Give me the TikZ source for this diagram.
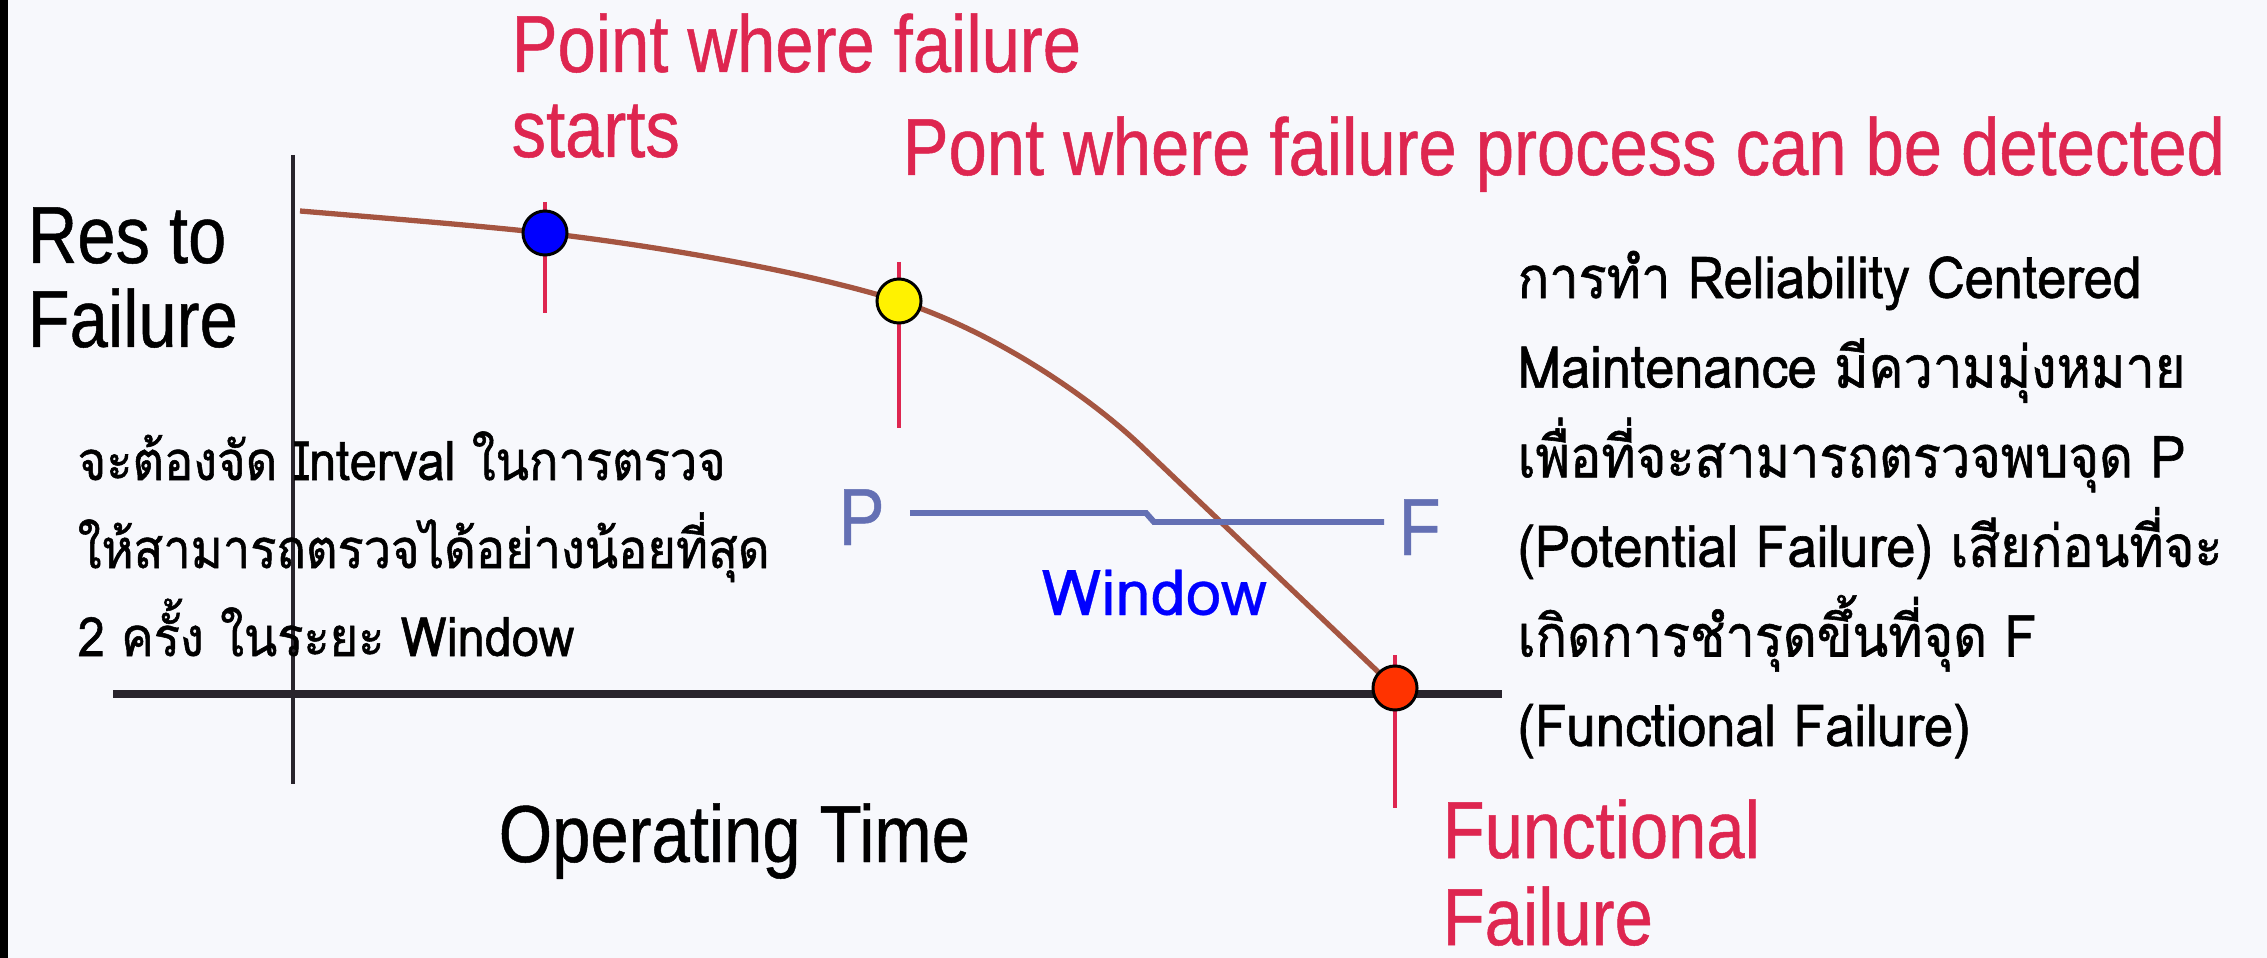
\documentclass[tikz,border=0pt]{standalone}
\usepackage{xcolor}
\usepackage{fontspec}
\usepackage{tikz}
\usetikzlibrary{positioning}

\newfontfamily\thaifont[Script=Thai, FakeBold=0.5]{Loma}
\newfontfamily\thainote[Script=Thai, FakeStretch=0.9, FakeBold=1]{Loma}
\newfontfamily\oldfont[FakeStretch=0.85, FakeBold=0.6]{Liberation Sans}

\definecolor{latar}{RGB}{247,248,252}
\definecolor{merah}{RGB}{222,38,80}
\definecolor{coklat}{RGB}{165,85,65}
\definecolor{biruabu}{RGB}{100,112,180}
\definecolor{sumbu}{RGB}{40,36,44}
\definecolor{titikmerah}{RGB}{255,51,0}

\begin{document}
\begin{tikzpicture}[
    x=0.01cm, y=-0.01cm,
    lama/.style={inner sep=0pt, anchor=base west, font=\oldfont\fontsize{23}{26}\selectfont},
    labelmerah/.style={lama, text=merah},
    catatan/.style={inner sep=0pt, anchor=base west, font=\thainote\fontsize{16.5}{19}\selectfont},
    catatankiri/.style={catatan, font=\thainote\fontsize{15.4}{18}\selectfont},
    titik/.style={circle, draw=black, line width=0.85pt, minimum size=0.44cm, inner sep=0pt},
    tanda/.style={draw=merah, line width=1.4pt},
    garisPF/.style={draw=biruabu, line width=1.7pt}
  ]
    % kanvas
    \fill[latar] (0,0) rectangle (2267,958);
    \fill[black] (0,0) rectangle (8,958);
    \useasboundingbox (0,0) rectangle (2267,958);

    % sumbu
    \draw[sumbu, line width=2pt] (113,694) -- (1502,694);
    \draw[sumbu, line width=1.4pt] (293,155) -- (293,784);

    % titik pada kurva
    \coordinate (mulai) at (545,233);
    \coordinate (deteksi) at (899,301);
    \coordinate (gagal) at (1395,688);

    \draw[tanda] (mulai) ++(0,-31) -- ++(0,111);
    \draw[tanda] (deteksi) ++(0,-39) -- ++(0,166);
    \draw[tanda] (gagal) ++(0,-33) -- ++(0,153);

    \draw[coklat, line width=1.5pt] (300,211)
      .. controls (420,221) and (480,226) .. (mulai)
      .. controls (650,245) and (800,270) .. (deteksi)
      .. controls (990,330) and (1085,393) .. (1140,445) -- (gagal);

    % jendela P-F
    \node[lama, text=biruabu] (hurufP) at (838,545) {P};
    \node[lama, text=biruabu] (hurufF) at (1398,555) {F};
    \coordinate (awalPF) at (910,513);
    \coordinate (akhirPF) at (1384,522);
    \draw[garisPF] (awalPF) -- (1146,513) -- (1154,522) -- (akhirPF);
    \node[inner sep=0pt, anchor=base west, text=blue,
          font=\thaifont\fontsize{18}{20}\selectfont] (jendela) at (1041,615) {Window};

    \node[titik, fill=blue] (titikmulai) at (mulai) {};
    \node[titik, fill=yellow] (titikdeteksi) at (deteksi) {};
    \node[titik, fill=titikmerah] (titikgagal) at (gagal) {};

    % label lama
    \node[lama] (res1) at (27,263) {Res to};
    \node[lama] (res2) at (27,347) {Failure};
    \node[lama] (waktu) at (498,862) {Operating Time};
    \node[labelmerah] (awal1) at (511,72) {Point where failure};
    \node[labelmerah] (awal2) at (511,157) {starts};
    \node[labelmerah] (proses) at (902,175) {Pont where failure process can be detected};
    \node[labelmerah] (fungsi1) at (1442,858) {Functional};
    \node[labelmerah] (fungsi2) at (1442,945) {Failure};

    % catatan bahasa Thai
    \foreach \baris [count=\i] in {จะต้องจัด Interval ในการตรวจ,
        ให้สามารถตรวจได้อย่างน้อยที่สุด, 2 ครั้ง ในระยะ Window}
      \node[catatankiri] (kiri\i) at (77,392+88*\i) {\baris};
    \foreach \baris [count=\i] in {การทำ Reliability Centered,
        Maintenance มีความมุ่งหมาย, เพื่อที่จะสามารถตรวจพบจุด P,
        (Potential Failure) เสียก่อนที่จะ, เกิดการชำรุดขึ้นที่จุด F,
        (Functional Failure)}
      \node[catatan] (kanan\i) at (1517,208.5+89.6*\i) {\baris};
  \end{tikzpicture}
\end{document}
